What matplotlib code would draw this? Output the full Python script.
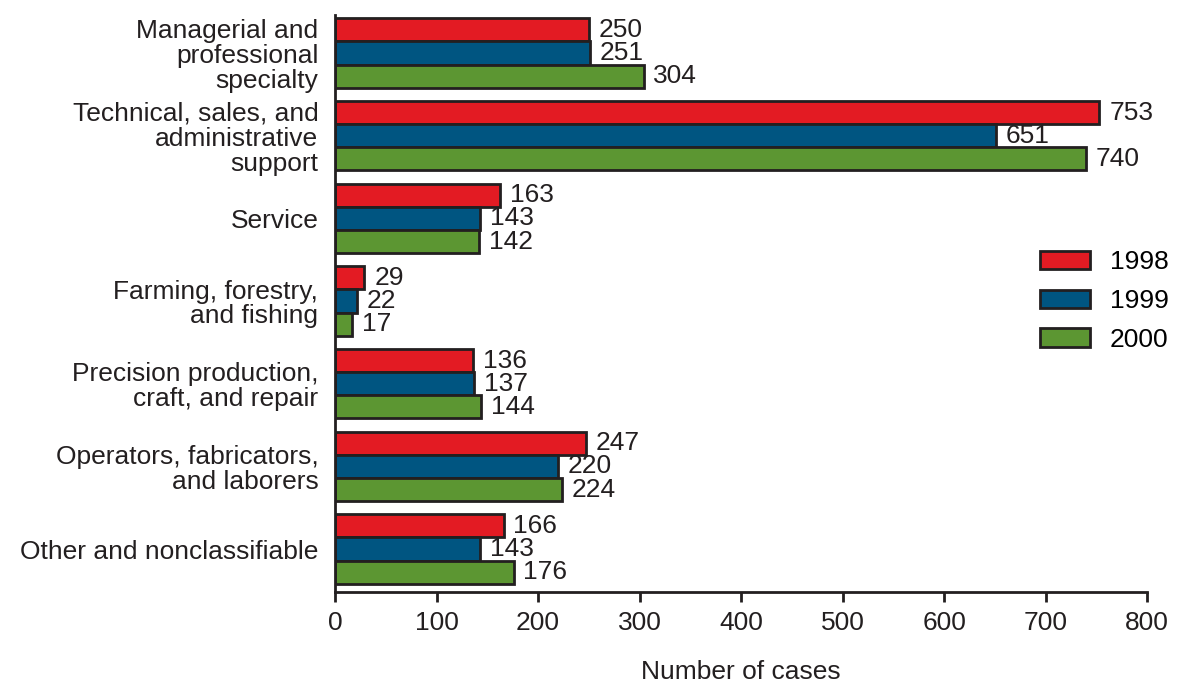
import numpy as np
import matplotlib.pyplot as plt

plt.rcParams['font.family'] = ['Liberation Sans', 'DejaVu Sans']

categories = [
    'Managerial and\nprofessional\nspecialty',
    'Technical, sales, and\nadministrative\nsupport',
    'Service',
    'Farming, forestry,\nand fishing',
    'Precision production,\ncraft, and repair',
    'Operators, fabricators,\nand laborers',
    'Other and nonclassifiable',
]
years = ['1998', '1999', '2000']
cases_1998 = [250, 753, 163, 29, 136, 247, 166]
cases_1999 = [251, 651, 143, 22, 137, 220, 143]
cases_2000 = [304, 740, 142, 17, 144, 224, 176]

colors = ['#E31B23', '#005581', '#5C9632']
edge = '#231F20'
fs = 19

fig = plt.figure(figsize=(11.9, 6.84), dpi=100)
ax = fig.add_axes([0.2815, 0.1345, 0.6825, 0.8435])

y = np.arange(len(categories))
h = 0.28
for i, (vals, yr) in enumerate(zip([cases_1998, cases_1999, cases_2000], years)):
    pos = y + (i - 1) * h
    ax.barh(pos, vals, height=h, color=colors[i], edgecolor=edge,
            linewidth=2, label=yr)
    for p, v in zip(pos, vals):
        ax.annotate(str(v), (v, p), xytext=(7, 0), textcoords='offset points',
                    va='center', ha='left', fontsize=fs, color=edge)

ax.set_ylim(6.52, -0.46)
ax.set_xlim(0, 800)
ax.set_xticks(range(0, 801, 100))
ax.set_yticks(y)
ax.set_yticklabels(categories, fontsize=fs, color=edge, linespacing=1.05)
ax.tick_params(axis='y', length=0, pad=12)
ax.tick_params(axis='x', length=7, width=2, direction='out', labelsize=fs,
               labelcolor=edge, color=edge, pad=7)
for s in ['top', 'right']:
    ax.spines[s].set_visible(False)
for s in ['left', 'bottom']:
    ax.spines[s].set_linewidth(2)
    ax.spines[s].set_color(edge)

ax.set_xlabel('Number of cases', fontsize=fs, color=edge, labelpad=18)

fig.legend(loc='center left', bbox_to_anchor=(1040 / 1190, 1 - 301 / 684),
           frameon=False, fontsize=fs, handlelength=1.9, handleheight=0.7,
           labelspacing=0.55, handletextpad=0.75, borderpad=0,
           borderaxespad=0)

fig.savefig('out.png', dpi=100)
